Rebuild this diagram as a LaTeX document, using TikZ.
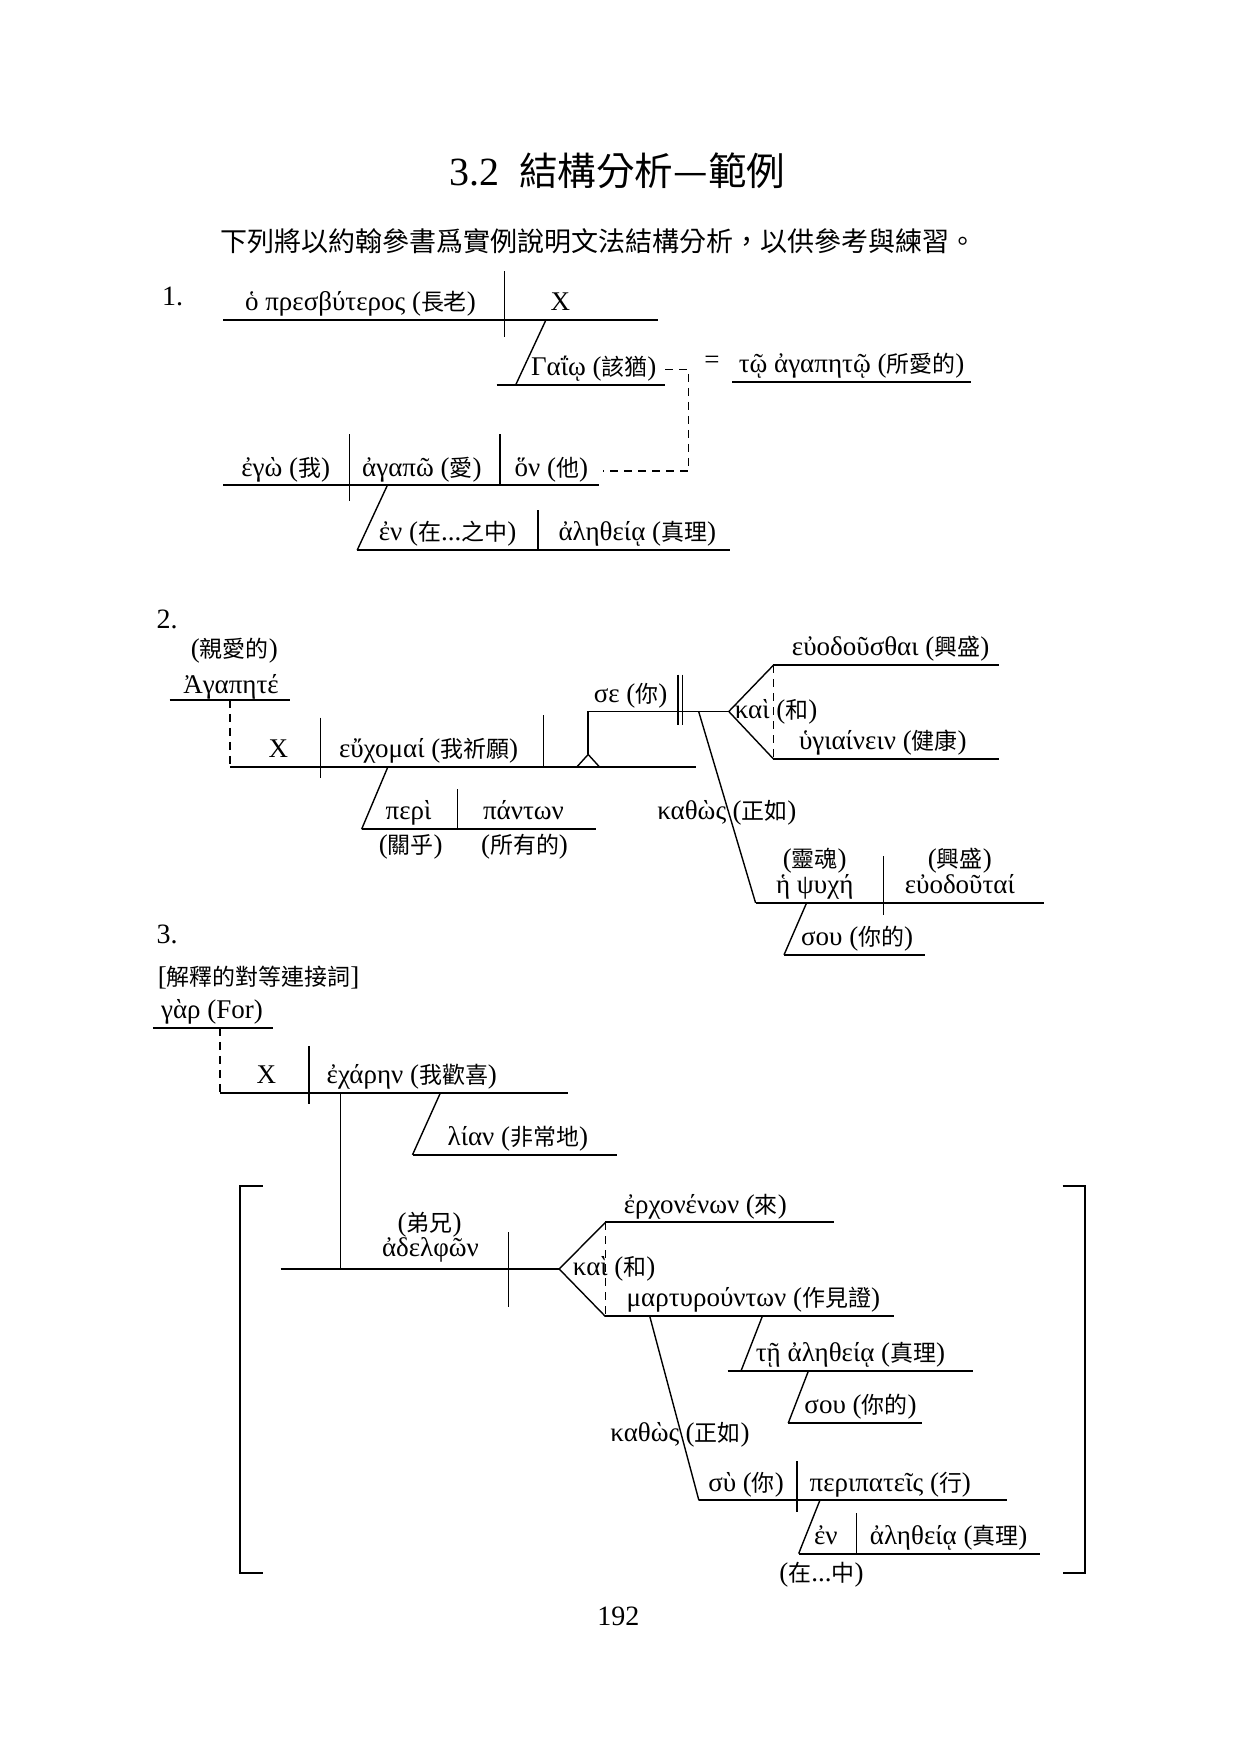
\documentclass[tikz,border=0pt]{standalone}
\usepackage{fontspec}
\setmainfont{Liberation Serif}
\newfontfamily\cjk{Noto Sans CJK TC}[Scale=0.85]
\newfontfamily\cjkf{Noto Sans CJK TC}
\newcommand\zh[1]{{\cjk #1}}
\begin{document}
\begin{tikzpicture}[x=0.558pt,y=-0.558pt,
  bl/.style={line width=1pt},
  sl/.style={line width=0.7pt},
  dv/.style={line width=0.8pt},
  dsh/.style={line width=0.8pt, dash pattern=on 4pt off 3pt},
  txt/.style={inner sep=0pt, anchor=base, font=\fontsize{13.5}{15}\selectfont},
  txtw/.style={txt, anchor=base west},
  txte/.style={txt, anchor=base east},
  num/.style={txtw, font=\fontsize{14}{16}\selectfont}]
\fill[white] (0,0) rectangle (1109,1568);
\useasboundingbox (0,0) rectangle (1109,1568);

% title
\node[txt, font=\fontsize{20}{22}\selectfont] (title) at (553,166) {3.2\hspace{0.5em}{\cjkf\fontsize{19.3}{22}\selectfont 結構分析—範例}};
\node[txt, font=\cjkf\fontsize{13.5}{16}\selectfont] (sub) at (536,225) {下列將以約翰參書爲實例說明文法結構分析，以供參考與練習。};

% ---------- 1 ----------
\node[num] (n1) at (145,274) {1.};
\draw[bl] (200,287) -- (590,287);
\draw[dv] (452,243) -- (452,302);
\node[txt] (presb) at (323,278.5) {ὁ πρεσβύτερος (\zh{長老})};
\node[txt] (x1) at (502,278.5) {X};
\draw[sl] (489,287) -- (462,345);
\draw[bl] (445,345) -- (596,345);
\node[txt] (gaio) at (532,336.5) {Γαΐῳ (\zh{該猶})};
\node[txt] (eq) at (638,330) {=};
\draw[bl] (656,342) -- (870,342);
\node[txt] (tw) at (763,333.5) {τῷ ἀγαπητῷ (\zh{所愛的})};
\draw[dsh] (596,331) -- (617,331) -- (617,422) -- (540,422);
\draw[bl] (200,435) -- (537,435);
\draw[dv] (313,389) -- (313,449);
\draw[dv] (448,389) -- (448,435);
\node[txt] (ego) at (256,426.5) {ἐγὼ (\zh{我})};
\node[txt] (agapw) at (378,426.5) {ἀγαπῶ (\zh{愛})};
\node[txt] (hon) at (494,426.5) {ὅν (\zh{他})};
\draw[sl] (347,435) -- (320,493);
\draw[bl] (320,493) -- (654,493);
\draw[dv] (482,457) -- (482,493);
\node[txt] (en1) at (401,484.5) {ἐν (\zh{在}...\zh{之中})};
\node[txt] (al1) at (571,484.5) {ἀληθείᾳ (\zh{真理})};

% ---------- 2 ----------
\node[num] (n2) at (140,563) {2.};
\node[txt] (qin) at (210,589.5) {(\zh{親愛的})};
\node[txt] (agapete) at (207,621.5) {Ἀγαπητέ};
\draw[bl] (152,627) -- (260,627);
\draw[dsh] (206,627) -- (206,687);
\draw[bl] (206,687) -- (624,687);
\draw[dv] (287,643) -- (287,697);
\draw[dv] (487,641) -- (487,687);
\node[txt] (x2) at (249.5,678.5) {X};
\node[txt] (eux) at (384,678.5) {εὔχομαί (\zh{我祈願})};
\draw[dv] (527,676) -- (527,637.5) -- (653,637.5);
\draw[sl] (517,687) -- (527,676) -- (537,687);
\draw[dv] (607.5,604.5) -- (607.5,649.5);
\draw[dv] (611.5,604.5) -- (611.5,649.5);
\node[txt] (se) at (565,629) {σε (\zh{你})};
\draw[sl] (693,596) -- (653,637.5) -- (693,680);
\draw[bl] (693,596) -- (895,596);
\draw[bl] (693,680) -- (895,680);
\draw[dsh] (693,596) -- (693,680);
\node[txt] (euod) at (798,587.5) {εὐοδοῦσθαι (\zh{興盛})};
\node[txtw] (kai2) at (658,644) {καὶ (\zh{和})};
\node[txt] (hyg) at (791,671.5) {ὑγιαίνειν (\zh{健康})};
\draw[sl] (347.6,687) -- (324,743);
\draw[bl] (324,743) -- (534,743);
\draw[dv] (410,707) -- (410,743);
\node[txt] (peri) at (366,734.5) {περὶ};
\node[txt] (pant) at (469,734.5) {πάντων};
\node[txt] (guan) at (368,765) {(\zh{關乎})};
\node[txt] (suo) at (470,765) {(\zh{所有的})};
\draw[sl] (626,637.5) -- (677,809);
\node[txte] (kath2) at (651,734) {καθὼς};
\node[txtw] (zr2) at (656,734) {(\zh{正如})};
\draw[bl] (677,809) -- (935,809);
\draw[dv] (791.5,767) -- (791.5,820);
\node[txt] (ling) at (730,777) {(\zh{靈魂})};
\node[txt] (psy) at (730,800.5) {ἡ ψυχή};
\node[txt] (xs) at (860,777) {(\zh{興盛})};
\node[txt] (euod2) at (860,800.5) {εὐοδοῦταί};
\draw[sl] (722.7,809) -- (702.5,855.5);
\draw[bl] (702.5,855.5) -- (829,855.5);
\node[txt] (sou2) at (768,847) {σου (\zh{你的})};

% ---------- 3 ----------
\node[num] (n3) at (140,845) {3.};
\node[txtw] (jie) at (141,883) {[\zh{解釋的對等連接詞}]};
\node[txt] (gar) at (190,912.5) {γὰρ (For)};
\draw[bl] (137,921) -- (245,921);
\draw[dsh] (197,921) -- (197,979.4);
\draw[bl] (197,979.4) -- (509,979.4);
\draw[dv] (277,937) -- (277,989);
\node[txt] (x3) at (238.7,971) {X};
\node[txt] (exa) at (369,971) {ἐχάρην (\zh{我歡喜})};
\draw[sl] (394.5,979.4) -- (369.6,1034.7);
\draw[bl] (369.6,1034.7) -- (553,1034.7);
\node[txt] (lian) at (464,1026) {λίαν (\zh{非常地})};
\draw[dv] (305,979.4) -- (305,1137);
\draw[bl] (251.4,1137) -- (501,1137);
\draw[dv] (455.5,1104) -- (455.5,1171);
\node[txt] (di) at (385,1103) {(\zh{弟兄})};
\node[txt] (adel) at (385.7,1126) {ἀδελφῶν};
\draw[sl] (542.4,1095.3) -- (501,1137) -- (542.4,1179.5);
\draw[bl] (542.4,1095.3) -- (747.6,1095.3);
\draw[bl] (542.4,1179.5) -- (801,1179.5);
\draw[dsh] (542.4,1095.3) -- (542.4,1179.5);
\node[txt] (erch) at (632,1087) {ἐρχονένων (\zh{來})};
\node[txtw] (kai3) at (513,1143) {καὶ (\zh{和})};
\node[txt] (mart) at (675,1171) {μαρτυρούντων (\zh{作見證})};
\draw[sl] (683,1179.5) -- (664,1228.2);
\draw[bl] (652,1228.2) -- (871.6,1228.2);
\node[txt] (th) at (762,1219.5) {τῇ ἀληθείᾳ (\zh{真理})};
\draw[sl] (724.4,1228.2) -- (706.3,1275);
\draw[bl] (706.3,1275) -- (826,1275);
\node[txt] (sou3) at (771,1266.5) {σου (\zh{你的})};
\draw[sl] (582.2,1179.5) -- (626.2,1344.3);
\node[txte] (kath3) at (609,1292) {καθὼς};
\node[txtw] (zr3) at (614,1292) {(\zh{正如})};
\draw[bl] (626.2,1344.3) -- (902,1344.3);
\draw[dv] (714,1309.4) -- (714,1355);
\node[txt] (sy) at (668.5,1336) {σὺ (\zh{你})};
\node[txt] (peripat) at (797.7,1336) {περιπατεῖς (\zh{行})};
\draw[sl] (734.6,1344.3) -- (715.6,1392);
\draw[bl] (715.6,1392) -- (932,1392);
\draw[dv] (767.3,1355.7) -- (767.3,1392);
\node[txt] (en3) at (740,1383.5) {ἐν};
\node[txt] (al3) at (850,1383.5) {ἀληθείᾳ (\zh{真理})};
\node[txt] (zai) at (736,1417) {(\zh{在}...\zh{中})};
\draw[bl] (235.6,1063) -- (215,1063) -- (215,1409) -- (235.6,1409);
\draw[bl] (952,1063) -- (972,1063) -- (972,1409) -- (952,1409);

\node[txt, font=\fontsize{14}{16}\selectfont] (pg) at (554,1456) {192};
\end{tikzpicture}
\end{document}
